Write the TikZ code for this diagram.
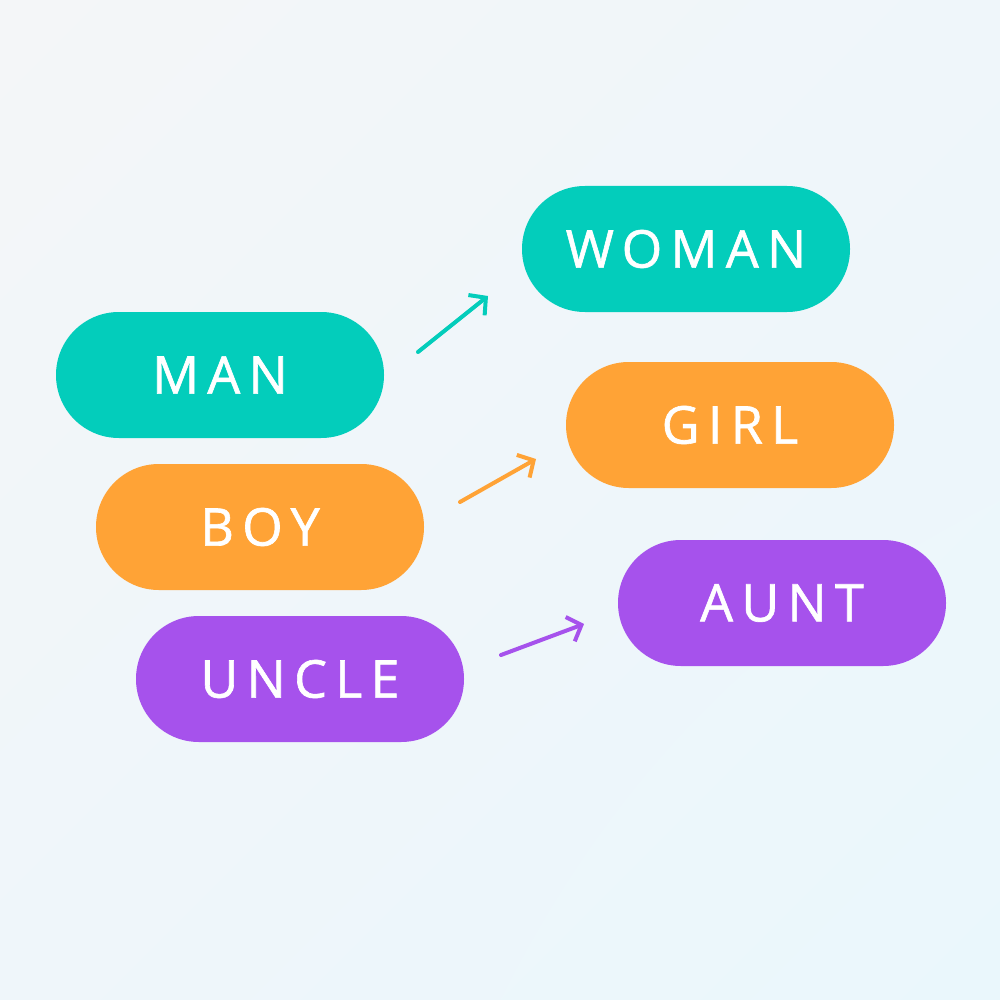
\documentclass[tikz,border=0pt]{standalone}
\usepackage{fontspec}
\setmainfont{Open Sans}[LetterSpace=16,FakeBold=1.2]
\usetikzlibrary{arrows.meta,shadings}
\definecolor{cteal}{HTML}{03CDBB}
\definecolor{corange}{HTML}{FFA336}
\definecolor{cpurple}{HTML}{A652EC}
\definecolor{bgtl}{HTML}{F4F6F8}
\definecolor{bgbr}{HTML}{EAF7FC}
\definecolor{bgmid}{HTML}{EFF6FA}
\tikzset{
  pill/.style={fill=#1, draw=none, rounded corners=62.9pt, minimum width=328pt, minimum height=126pt,
    text=white, font=\fontsize{52}{60}\selectfont, inner sep=0pt},
  conn/.style={draw=#1, line width=4pt, line cap=round, line join=round,
    -{Straight Barb[length=12pt,width=26pt,line width=4pt]}}
}
\begin{document}
\begin{tikzpicture}[x=1pt,y=-1pt]
\shade[upper left=bgtl, lower right=bgbr, upper right=bgmid, lower left=bgmid] (0,0) rectangle (1000,1000);
\useasboundingbox (0,0) rectangle (1000,1000);
\node[pill=cteal] (man) at (220,375) {MAN};
\node[pill=corange] (boy) at (260,527) {BOY};
\node[pill=cpurple] (uncle) at (300,679) {UNCLE};
\node[pill=cteal] (woman) at (686,249) {WOMAN};
\node[pill=corange] (girl) at (730,425) {GIRL};
\node[pill=cpurple] (aunt) at (782,603) {AUNT};
\coordinate (a1s) at (418,352); \coordinate (a1e) at (488,296);
\coordinate (a2s) at (460,502); \coordinate (a2e) at (536,459);
\coordinate (a3s) at (501,655); \coordinate (a3e) at (584,624);
\draw[conn=cteal] (a1s) -- (a1e);
\draw[conn=corange] (a2s) -- (a2e);
\draw[conn=cpurple] (a3s) -- (a3e);
\end{tikzpicture}
\end{document}
